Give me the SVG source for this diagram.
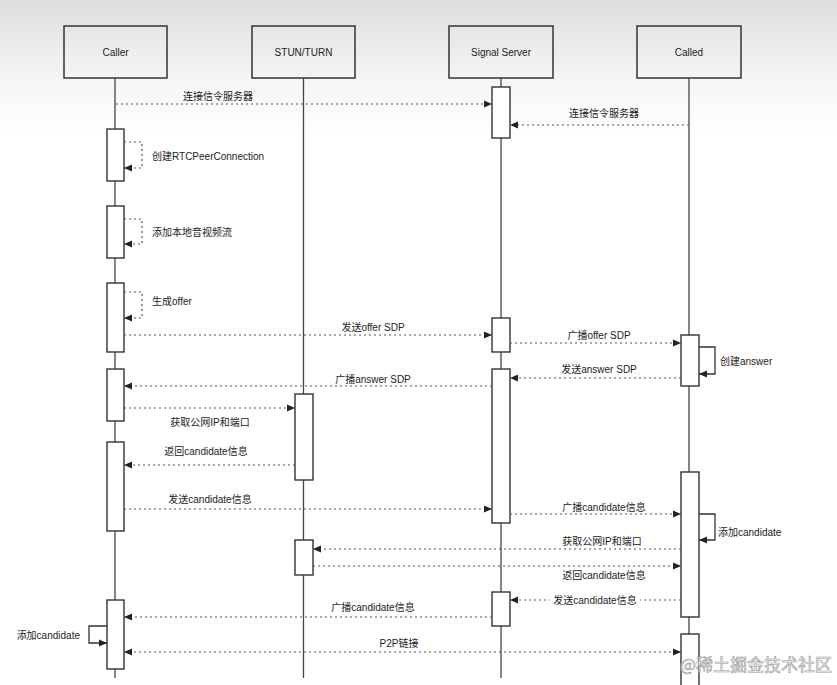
<svg xmlns="http://www.w3.org/2000/svg" width="837" height="685" viewBox="0 0 837 685">
<defs>
<linearGradient id="bg" x1="0" y1="0" x2="0" y2="1">
<stop offset="0" stop-color="#dedede"/>
<stop offset="0.12" stop-color="#f6f6f6"/>
<stop offset="0.2" stop-color="#ffffff"/>
<stop offset="1" stop-color="#ffffff"/>
</linearGradient>
<marker id="ah" viewBox="0 0 8 8" refX="8" refY="4" markerWidth="8" markerHeight="8" markerUnits="userSpaceOnUse" orient="auto-start-reverse">
<path d="M0,0.5 L8,4 L0,7.5 Z" fill="#222"/>
</marker>
<style>
text{font-family:"Liberation Sans","Noto Sans CJK SC",sans-serif;font-size:10px;fill:#222}
.head{fill:none;stroke:#333;stroke-width:1.5}
.life{stroke:#444;stroke-width:1.3}
.act{fill:#fff;stroke:#333;stroke-width:1.4}
.msg{fill:none;stroke:#555;stroke-width:1.2;stroke-dasharray:2 3}
.solid{fill:none;stroke:#333;stroke-width:1.3}
.mid{text-anchor:middle}
</style>
</defs>
<rect x="0" y="0" width="837" height="685" fill="url(#bg)"/>

<g id="caller">
<rect class="head" x="64" y="26" width="103" height="52"/>
<text class="mid" x="115.5" y="56">Caller</text>
<line class="life" x1="115" y1="78" x2="115" y2="678"/>
<rect class="act" x="107" y="129" width="17" height="52"/>
<rect class="act" x="107" y="206" width="17" height="52"/>
<rect class="act" x="107" y="283" width="17" height="69"/>
<rect class="act" x="107" y="369" width="17" height="52"/>
<rect class="act" x="107" y="442" width="17" height="89"/>
<rect class="act" x="107" y="600" width="17" height="69"/>
</g>

<g id="stun">
<rect class="head" x="252" y="26" width="103" height="52"/>
<text class="mid" x="303.5" y="56">STUN/TURN</text>
<line class="life" x1="303.5" y1="78" x2="303.5" y2="678"/>
<rect class="act" x="295" y="394" width="18" height="86"/>
<rect class="act" x="295" y="540" width="18" height="35"/>
</g>

<g id="signal">
<rect class="head" x="449" y="26" width="104" height="52"/>
<text class="mid" x="501" y="56">Signal Server</text>
<line class="life" x1="501" y1="78" x2="501" y2="678"/>
<rect class="act" x="492" y="87" width="18" height="51"/>
<rect class="act" x="492" y="318" width="18" height="34"/>
<rect class="act" x="492" y="369" width="18" height="154"/>
<rect class="act" x="492" y="592" width="18" height="34"/>
</g>

<g id="called">
<rect class="head" x="637" y="26" width="104" height="52"/>
<text class="mid" x="689" y="56">Called</text>
<line class="life" x1="689" y1="78" x2="689" y2="685"/>
<rect class="act" x="681" y="335" width="18" height="51"/>
<rect class="act" x="681" y="472" width="18" height="145"/>
<rect class="act" x="681" y="634" width="18" height="60"/>
</g>

<g id="connectors">
<line class="msg" x1="116" y1="104" x2="492" y2="104" marker-end="url(#ah)"/>
<line class="msg" x1="689" y1="125" x2="510" y2="125" marker-end="url(#ah)"/>
<polyline class="msg" points="124,142 142,142 142,168 124,168" marker-end="url(#ah)"/>
<polyline class="msg" points="124,219 142,219 142,244 124,244" marker-end="url(#ah)"/>
<polyline class="msg" points="124,292 142,292 142,318 124,318" marker-end="url(#ah)"/>
<line class="msg" x1="124" y1="335" x2="492" y2="335" marker-end="url(#ah)"/>
<line class="msg" x1="510" y1="343" x2="681" y2="343" marker-end="url(#ah)"/>
<polyline class="solid" points="699,347 715,347 715,374 699,374" marker-end="url(#ah)"/>
<line class="msg" x1="681" y1="378" x2="510" y2="378" marker-end="url(#ah)"/>
<line class="msg" x1="492" y1="386" x2="124" y2="386" marker-end="url(#ah)"/>
<line class="msg" x1="124" y1="408" x2="295" y2="408" marker-end="url(#ah)"/>
<line class="msg" x1="295" y1="465" x2="124" y2="465" marker-end="url(#ah)"/>
<line class="msg" x1="124" y1="509" x2="492" y2="509" marker-end="url(#ah)"/>
<line class="msg" x1="510" y1="514" x2="681" y2="514" marker-end="url(#ah)"/>
<polyline class="solid" points="699,514 715,514 715,540 699,540" marker-end="url(#ah)"/>
<line class="msg" x1="681" y1="549" x2="313" y2="549" marker-end="url(#ah)"/>
<line class="msg" x1="313" y1="566" x2="681" y2="566" marker-end="url(#ah)"/>
<line class="msg" x1="681" y1="600" x2="510" y2="600" marker-end="url(#ah)"/>
<line class="msg" x1="492" y1="617" x2="124" y2="617" marker-end="url(#ah)"/>
<polyline class="solid" points="107,626 89,626 89,643 107,643" marker-end="url(#ah)"/>
<line class="msg" x1="124" y1="652" x2="681" y2="652" marker-start="url(#ah)" marker-end="url(#ah)"/>
</g>

<g id="labels">
<text class="mid" x="218" y="99.5">连接信令服务器</text>
<text class="mid" x="604" y="117">连接信令服务器</text>
<text x="152" y="159.5">创建RTCPeerConnection</text>
<text x="152" y="235.5">添加本地音视频流</text>
<text x="152" y="304.5">生成offer</text>
<text class="mid" x="373" y="330.5">发送offer SDP</text>
<text class="mid" x="599" y="338.5">广播offer SDP</text>
<text x="720" y="364.5">创建answer</text>
<text class="mid" x="599" y="372.5">发送answer SDP</text>
<text class="mid" x="373" y="382.5">广播answer SDP</text>
<text class="mid" x="210" y="425.5">获取公网IP和端口</text>
<text class="mid" x="206" y="454.5">返回candidate信息</text>
<text class="mid" x="210" y="502.5">发送candidate信息</text>
<text class="mid" x="604" y="510.5">广播candidate信息</text>
<text x="718" y="535.5">添加candidate</text>
<text class="mid" x="602" y="544.5">获取公网IP和端口</text>
<text class="mid" x="604" y="578.5">返回candidate信息</text>
<rect x="550" y="593" width="90" height="14" fill="#fff"/>
<text class="mid" x="595" y="603.5">发送candidate信息</text>
<text class="mid" x="373" y="610.5">广播candidate信息</text>
<text x="80" y="638.5" text-anchor="end">添加candidate</text>
<text class="mid" x="399" y="646.5">P2P链接</text>
</g>

<text x="832" y="671" text-anchor="end" style="font-family:'Noto Sans CJK SC',sans-serif;font-size:17px;fill:#f4f4f4;stroke:#9a9a9a;stroke-width:0.6">@稀土掘金技术社区</text>
</svg>
